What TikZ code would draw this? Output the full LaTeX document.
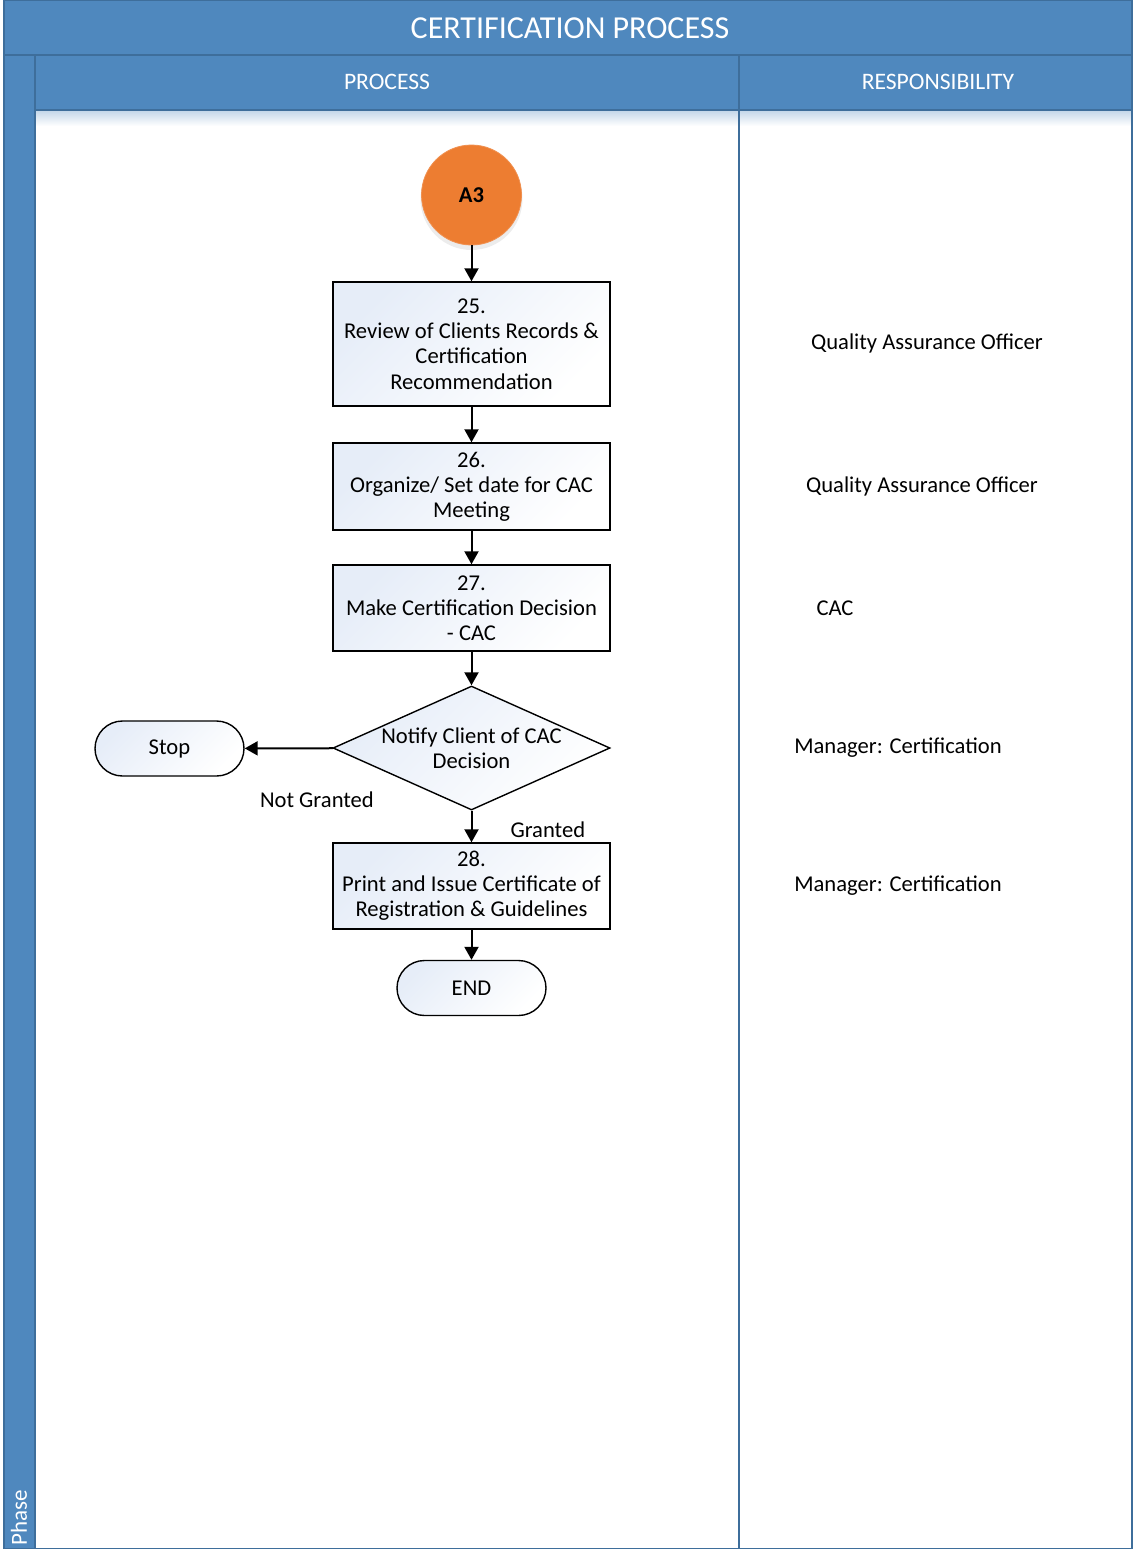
\documentclass[tikz,border=0pt]{standalone}
\usepackage{fontspec}
\setmainfont{Carlito}
\usetikzlibrary{arrows.meta,shapes.geometric,positioning}
\definecolor{laneblue}{RGB}{79,136,190}
\definecolor{lanedark}{RGB}{62,110,155}
\definecolor{orangeA}{RGB}{237,125,49}
\definecolor{boxtint}{RGB}{230,237,248}

\begin{document}
\begin{tikzpicture}[x=0.5pt,y=-0.5pt,>={Triangle[width=7pt,length=6.5pt]},font=\fontsize{11.3}{12.6}\selectfont]
  \tikzstyle{every node}=[align=center,inner sep=0pt]
  \tikzstyle{stepbox}=[draw=black,line width=0.7pt,rectangle,minimum width=138.5pt,top color=boxtint,bottom color=white,shading angle=45]
  \tikzstyle{endbox}=[stepbox,rounded corners=13.75pt,minimum width=74.5pt,minimum height=27.5pt]
  \tikzstyle{hdr}=[text=white]
  \tikzstyle{flow}=[->,line width=1pt]

  \useasboundingbox (0,0) rectangle (1132,1549);

  % swimlane frame
  \fill[laneblue] (4,0) rectangle (1132,110);
  \fill[laneblue] (4,0) rectangle (35,1549);
  \shade[top color=laneblue!35,bottom color=white] (35,110) rectangle (1132,126);
  \draw[lanedark,line width=0.8pt] (4,0) rectangle (1132,1549);
  \draw[lanedark,line width=0.8pt] (4,55) -- (1132,55);
  \draw[lanedark,line width=0.8pt] (35,55) -- (35,1549);
  \draw[lanedark,line width=0.8pt] (35,110) -- (1132,110);
  \draw[lanedark,line width=0.8pt] (739,55) -- (739,1549);

  \node[hdr,font=\fontsize{16}{18}\selectfont] (title) at (570,28) {CERTIFICATION PROCESS};
  \node[hdr,font=\fontsize{11.8}{13}\selectfont] (hproc) at (387,82) {PROCESS};
  \node[hdr,font=\fontsize{11.8}{13}\selectfont] (hresp) at (938,82) {RESPONSIBILITY};
  \node[hdr,rotate=90,font=\fontsize{11.5}{12}\selectfont] (phase) at (19,1518) {Phase};

  % process
  \fill[gray!15] (471.5,199) circle (25.5pt);
  \node[circle,fill=orangeA,draw=orangeA!85!white,minimum size=50pt,font=\fontsize{11.3}{12.6}\selectfont\bfseries] (A3) at (471.5,195) {A3};
  \node[stepbox,minimum height=62pt] (s25) at (471.5,344) {25.\\Review of Clients Records \&\\Certification\\Recommendation};
  \node[stepbox,minimum height=43.5pt] (s26) at (471.5,486.5) {26.\\Organize/ Set date for CAC\\Meeting};
  \node[stepbox,minimum height=43pt] (s27) at (471.5,608) {27.\\Make Certification Decision\\- CAC};
  \node[diamond,draw=black,line width=0.7pt,aspect=2.23,minimum width=138.5pt,minimum height=62pt,top color=boxtint,bottom color=white,shading angle=45] (notify) at (471.5,748) {};
  \node (notifytxt) at (471.5,748) {Notify Client of CAC\\Decision};
  \node[endbox] (stop) at (169.5,748.5) {Stop};
  \node[stepbox,minimum height=43pt] (s28) at (471.5,886) {28.\\Print and Issue Certificate of\\Registration \& Guidelines};
  \node[endbox] (finish) at (471.5,988) {END};

  \path (A3) edge[flow] (s25)
        (s25) edge[flow] (s26)
        (s26) edge[flow] (s27)
        (s27) edge[flow] (notify)
        (notify) edge[flow] node[pos=0.18,below=21.5pt] {Not Granted} (stop)
        (notify) edge[flow] node[pos=0.6,right=19pt] {Granted} (s28)
        (s28) edge[flow] (finish);

  % responsibility
  \node (r25) at (927,343) {Quality Assurance Officer};
  \node (r26) at (922,486) {Quality Assurance Officer};
  \node (r27) at (835,608) {CAC};
  \node (r28) at (898,748) {Manager: Certification};
  \node (r29) at (898,886) {Manager: Certification};
\end{tikzpicture}
\end{document}
